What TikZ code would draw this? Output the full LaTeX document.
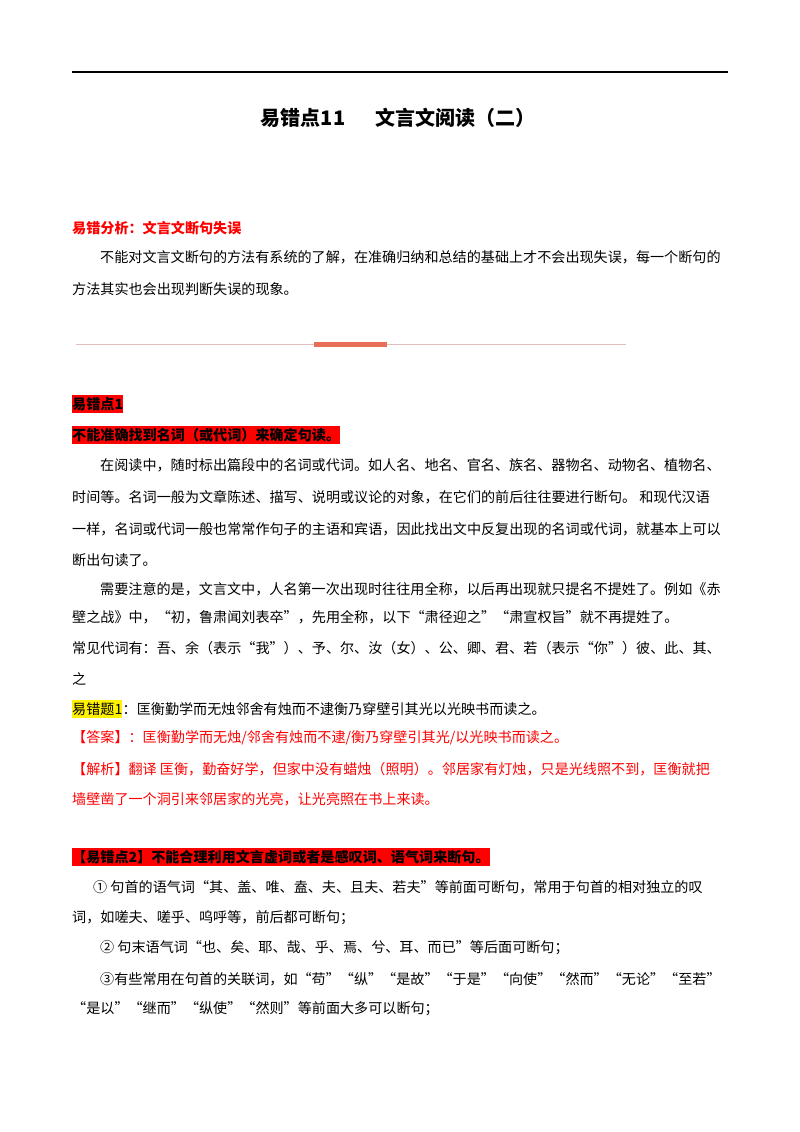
\documentclass[tikz,border=0pt]{standalone}
\usepackage{fontspec}
\setmainfont{Noto Sans CJK SC}
\definecolor{seppink}{RGB}{225,190,190}
\definecolor{sepbar}{RGB}{232,110,90}
\begin{document}
\begin{tikzpicture}[x=1pt,y=-1pt,
  t/.style={anchor=west,inner sep=0pt,font=\fontsize{14.1}{16}\selectfont},
  rt/.style={t,text=red},
  hl/.style={t,font=\fontsize{14.1}{16}\selectfont\bfseries,fill=red,inner ysep=2pt,inner xsep=0pt}]
\useasboundingbox[fill=white] (0,0) rectangle (800,1132);
\draw[line width=1.2pt] (72,72) -- (728,72);
\node[inner sep=0pt,font=\fontsize{20}{22}\selectfont\bfseries] (title) at (398,118) {易错点11\hspace{30pt}文言文阅读（二）};
\node[rt,font=\fontsize{14.1}{16}\selectfont\bfseries] (a0) at (72,228) {易错分析：文言文断句失误};
\node[t] (a1) at (100,257) {不能对文言文断句的方法有系统的了解，在准确归纳和总结的基础上才不会出现失误，每一个断句的};
\node[t] (a2) at (72,289) {方法其实也会出现判断失误的现象。};
\draw[line width=1pt,draw=seppink] (76,344) -- (626,344);
\fill[sepbar] (314,342) rectangle (387,347);
\node[hl] (b0) at (72,404) {易错点1};
\node[hl] (b1) at (72,435) {不能准确找到名词（或代词）来确定句读。};
\node[t] (b2) at (100,465) {在阅读中，随时标出篇段中的名词或代词。如人名、地名、官名、族名、器物名、动物名、植物名、};
\node[t] (b3) at (72,497) {时间等。名词一般为文章陈述、描写、说明或议论的对象，在它们的前后往往要进行断句。 和现代汉语};
\node[t] (b4) at (72,529) {一样，名词或代词一般也常常作句子的主语和宾语，因此找出文中反复出现的名词或代词，就基本上可以};
\node[t] (b5) at (72,560) {断出句读了。};
\node[t] (b6) at (100,589) {需要注意的是，文言文中，人名第一次出现时往往用全称，以后再出现就只提名不提姓了。例如《赤};
\node[t] (b7) at (72,617) {壁之战》中，“初，鲁肃闻刘表卒”，先用全称，以下“肃径迎之”“肃宣权旨”就不再提姓了。};
\node[t] (b8) at (72,648) {常见代词有：吾、余（表示“我”）、予、尔、汝（女）、公、卿、君、若（表示“你”）彼、此、其、};
\node[t] (b9) at (72,679) {之};
\node[t,fill=yellow,inner ysep=2pt] (c0a) at (72,709) {易错题1};
\node[t] (c0) at (c0a.east) {：匡衡勤学而无烛邻舍有烛而不逮衡乃穿壁引其光以光映书而读之。};
\node[rt] (c1) at (72,738) {【答案】：匡衡勤学而无烛/邻舍有烛而不逮/衡乃穿壁引其光/以光映书而读之。};
\node[rt] (c2) at (72,769) {【解析】翻译 匡衡，勤奋好学，但家中没有蜡烛（照明）。邻居家有灯烛，只是光线照不到，匡衡就把};
\node[rt] (c3) at (72,799) {墙壁凿了一个洞引来邻居家的光亮，让光亮照在书上来读。};
\node[hl] (d0) at (72,857) {【易错点2】不能合理利用文言虚词或者是感叹词、语气词来断句。};
\node[t] (d1) at (93,887) {① 句首的语气词“其、盖、唯、盍、夫、且夫、若夫”等前面可断句，常用于句首的相对独立的叹};
\node[t] (d2) at (72,918) {词，如嗟夫、嗟乎、呜呼等，前后都可断句；};
\node[t] (d3) at (100,948) {② 句末语气词“也、矣、耶、哉、乎、焉、兮、耳、而已”等后面可断句；};
\node[t] (d4) at (100,979) {③有些常用在句首的关联词，如“苟”“纵”“是故”“于是”“向使”“然而”“无论”“至若”};
\node[t] (d5) at (72,1009) {“是以”“继而”“纵使”“然则”等前面大多可以断句；};
\end{tikzpicture}
\end{document}
